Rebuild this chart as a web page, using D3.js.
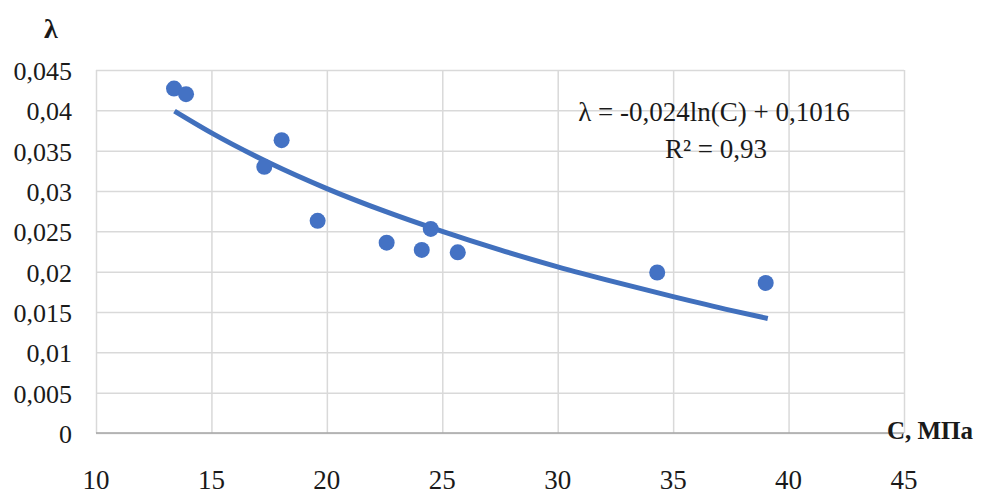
<html>
<head>
  <meta charset="utf-8">
  <title>lambda vs C</title>
  <script src="https://d3js.org/d3.v7.min.js"></script>
  <style>
    body { margin: 0; background: #fff; }
    text { font-family: "Liberation Serif", "DejaVu Serif", serif; fill: #1a1a1a; }
  </style>
</head>
<body>
<div id="chart"></div>
<script>

  // measured points (C, MPa -> lambda)
  var cValues      = [13.38, 13.90, 17.29, 18.04, 19.60, 22.59, 24.11, 24.50, 25.67, 34.31, 39.01];
  var lambdaValues = [0.0427, 0.0420, 0.0330, 0.0363, 0.0263, 0.0236, 0.0227, 0.0253, 0.0224, 0.0199, 0.0186];

  // trend line
  var trendC      = [13.4, 15, 17.5, 20, 22.5, 25, 27.5, 30, 32.5, 35, 37.5, 39.1];
  var trendLambda = [0.0399, 0.0372, 0.0335, 0.0303, 0.0275, 0.0250, 0.0227, 0.0206, 0.0187, 0.0169, 0.0152, 0.0142];

  var xTicks = [10, 15, 20, 25, 30, 35, 40, 45];
  var yTicks = [0, 0.005, 0.01, 0.015, 0.02, 0.025, 0.03, 0.035, 0.04, 0.045];
  var yTickLabels = ["0", "0,005", "0,01", "0,015", "0,02", "0,025", "0,03", "0,035", "0,04", "0,045"];

  var equation = "λ = -0,024ln(C) + 0,1016";
  var r2 = "R² = 0,93";

  var width = 982, height = 495;
  var plotL = 96, plotR = 904, plotT = 70, plotB = 433;

  var svg = d3.select("#chart").append("svg")
      .attr("width", width)
      .attr("height", height);

  var x = d3.scaleLinear().domain([10, 45]).range([plotL, plotR]);
  var y = d3.scaleLinear().domain([0, 0.045]).range([plotB, plotT]);

  // vertical grid
  var gx = svg.append("g")
      .attr("transform", "translate(0," + plotB + ")")
      .call(d3.axisBottom(x).tickValues(xTicks).tickSize(-(plotB - plotT)).tickFormat(""));
  gx.select(".domain").remove();
  gx.selectAll("line").attr("stroke", "#d9d9d9").attr("stroke-width", 1.5);

  // horizontal grid + y labels
  var gy = svg.append("g")
      .attr("transform", "translate(" + plotL + ",0)")
      .call(d3.axisLeft(y).tickValues(yTicks).tickSize(-(plotR - plotL)).tickPadding(24)
        .tickFormat(function(d, i) { return yTickLabels[i]; }));
  gy.select(".domain").remove();
  gy.selectAll("line").attr("stroke", "#d9d9d9").attr("stroke-width", 1.5);
  gy.selectAll("text")
      .attr("font-family", "Liberation Serif, serif")
      .attr("font-size", 26)
      .attr("fill", "#1a1a1a")
      .attr("dy", "0.36em");

  // bottom axis line
  svg.append("line")
      .attr("x1", plotL).attr("x2", plotR)
      .attr("y1", plotB).attr("y2", plotB)
      .attr("stroke", "#a6a6a6").attr("stroke-width", 1.5);

  // x labels sit well below the axis
  svg.append("g").selectAll("text")
      .data(xTicks)
      .enter()
      .append("text")
      .attr("x", function(d) { return x(d); })
      .attr("y", 489)
      .attr("text-anchor", "middle")
      .attr("font-size", 27)
      .text(function(d) { return d; });

  // trend line
  var line = d3.line()
      .x(function(d) { return x(d[0]); })
      .y(function(d) { return y(d[1]); })
      .curve(d3.curveMonotoneX);

  svg.append("path")
      .datum(d3.zip(trendC, trendLambda))
      .attr("d", line)
      .attr("fill", "none")
      .attr("stroke", "#4170bd")
      .attr("stroke-width", 5);

  // points
  svg.selectAll("circle")
      .data(d3.zip(cValues, lambdaValues))
      .enter()
      .append("circle")
      .attr("cx", function(d) { return x(d[0]); })
      .attr("cy", function(d) { return y(d[1]); })
      .attr("r", 8)
      .attr("fill", "#4472c4");

  // equation
  svg.append("text")
      .attr("x", 714).attr("y", 121)
      .attr("text-anchor", "middle")
      .attr("font-size", 27)
      .text(equation);
  svg.append("text")
      .attr("x", 716).attr("y", 158)
      .attr("text-anchor", "middle")
      .attr("font-size", 27)
      .text(r2);

  // axis titles
  svg.append("text")
      .attr("x", 51).attr("y", 38)
      .attr("text-anchor", "middle")
      .attr("font-size", 28)
      .attr("font-weight", "bold")
      .text("λ");
  svg.append("text")
      .attr("x", 930).attr("y", 439)
      .attr("text-anchor", "middle")
      .attr("font-size", 25)
      .attr("font-weight", "bold")
      .text("C, МПа");

</script>
</body>
</html>
